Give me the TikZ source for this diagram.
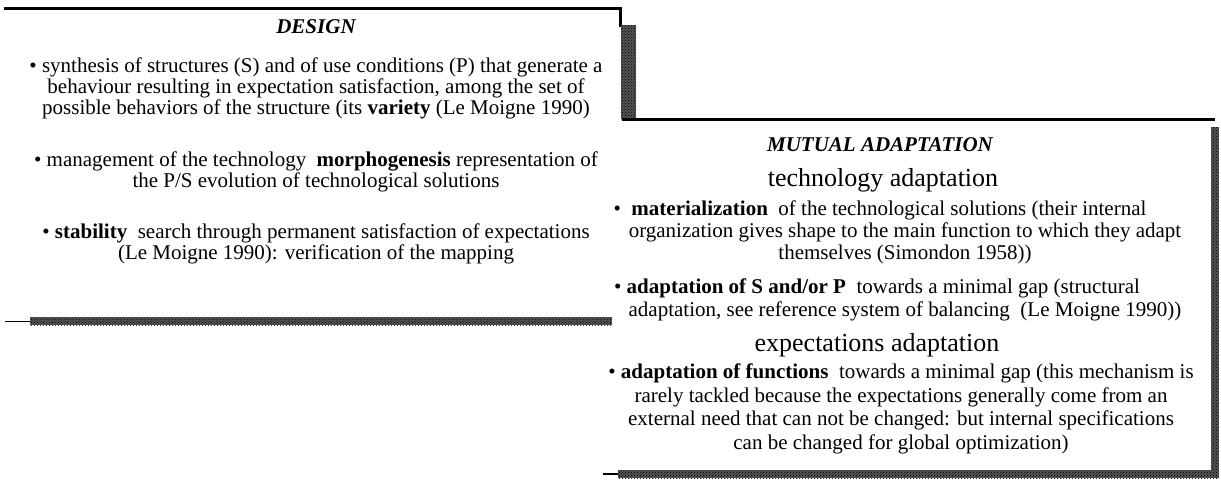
\documentclass[tikz,border=0pt]{standalone}
\usepackage{fontspec}
\setmainfont{Liberation Serif}
\usetikzlibrary{patterns}
\begin{document}
\begin{tikzpicture}[x=1pt,y=-1pt,
  body/.style={font=\fontsize{21}{21}\selectfont, align=center, inner sep=0pt, anchor=north},
  headtxt/.style={font=\fontsize{21}{24}\selectfont\bfseries\itshape, inner sep=0pt, anchor=north},
  bigtxt/.style={font=\fontsize{26}{28}\selectfont, inner sep=0pt, anchor=north},
  edgeline/.style={line width=3pt, line cap=rect},
  shadeband/.style={pattern=crosshatch dots, pattern color=black},
  shadebase/.style={fill=black!68}]
\useasboundingbox (0,0) rectangle (1221,480);
% ---------- DESIGN box frame ----------
\coordinate (dTL) at (5,8);
\coordinate (dTR) at (620,8);
\coordinate (dStep) at (620,25);
\draw[edgeline] (dTL) -- (dTR) -- (dStep);
\fill[shadebase] (621,25) rectangle (636,119);
\fill[shadeband] (621,25) rectangle (636,119);
\draw[line width=1pt] (5,321) -- (32,321);
\fill[shadebase] (30,317) rectangle (612,325);
\fill[shadeband] (30,317) rectangle (612,325);
% ---------- MUTUAL ADAPTATION box frame ----------
\coordinate (mTL) at (623,119);
\coordinate (mTR) at (1213,119);
\draw[edgeline] (mTL) -- (mTR);
\fill[shadebase] (1211,127) rectangle (1219,478);
\fill[shadeband] (1211,127) rectangle (1219,478);
\draw[line width=1.5pt] (603,474) -- (620,474);
\fill[shadebase] (618,470) rectangle (1219,478);
\fill[shadeband] (618,470) rectangle (1219,478);
% ---------- DESIGN texts ----------
\node[headtxt] (dtitle) at (316,19) {DESIGN};
\node[body] (d1) at (316,58) {\textbullet\ synthesis of structures (S) and of use conditions (P) that generate a\\
behaviour resulting in expectation satisfaction, among the set of\\
possible behaviors of the structure (its \textbf{variety} (Le Moigne 1990)};
\node[body] (d2) at (316,152) {\textbullet\ management of the technology \ \textbf{morphogenesis} representation of\\
the P/S evolution of technological solutions};
\node[body] (d3) at (316,224) {\textbullet\ \textbf{stability} \ search through permanent satisfaction of expectations\\
(Le Moigne 1990): verification of the mapping};
% ---------- MUTUAL ADAPTATION texts ----------
\node[headtxt] (mtitle) at (880,137) {MUTUAL ADAPTATION};
\node[bigtxt] (tech) at (883,168) {technology adaptation};
\node[body, font=\fontsize{21}{22}\selectfont] (m1) at (905,201) {\textbullet\ \ \textbf{materialization} \ of the technological solutions (their internal\hspace*{50pt}\\
organization gives shape to the main function to which they adapt\\
themselves (Simondon 1958))};
\node[body, font=\fontsize{21}{23}\selectfont] (m2) at (905,279) {\textbullet\ \textbf{adaptation of S and/or P} \ towards a minimal gap (structural\hspace*{56pt}\\
adaptation, see reference system of balancing \ (Le Moigne 1990))};
\node[bigtxt] (expc) at (877,333) {expectations adaptation};
\node[body, font=\fontsize{21}{23.5}\selectfont] (m3) at (901,364) {\textbullet\ \textbf{adaptation of functions} \ towards a minimal gap (this mechanism is\\
rarely tackled because the expectations generally come from an\\
external need that can not be changed: but internal specifications\\
can be changed for global optimization)};
\end{tikzpicture}
\end{document}
